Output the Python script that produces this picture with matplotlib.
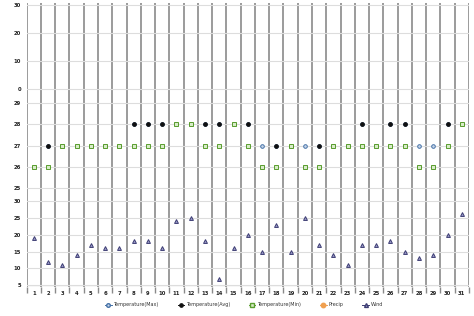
import matplotlib
matplotlib.use("Agg")
import matplotlib.pyplot as plt
from matplotlib.lines import Line2D

days = list(range(1, 32))
temp_max = [26, 27, 27, 27, 27, 27, 27, 28, 28, 28, 28, 28, 28, 28, 28, 28,
            27, 27, 27, 27, 27, 27, 27, 28, 27, 28, 28, 27, 27, 28, 28]
temp_avg = [26, 27, 27, 27, 27, 27, 27, 28, 28, 28, 28, 28, 28, 28, 28, 28,
            26, 27, 27, 26, 27, 27, 27, 28, 27, 28, 28, 26, 26, 28, 28]
temp_min = [26, 26, 27, 27, 27, 27, 27, 27, 27, 27, 28, 28, 27, 27, 28, 27,
            26, 26, 27, 26, 26, 27, 27, 27, 27, 27, 27, 26, 26, 27, 28]
precip = []
wind = [19, 12, 11, 14, 17, 16, 16, 18, 18, 16, 24, 25, 18, 7, 16, 20,
        15, 23, 15, 25, 17, 14, 11, 17, 17, 18, 15, 13, 14, 20, 26]

c_max = "#4572a7"
c_avg = "#111111"
c_min = "#5a9e2f"
c_pre = "#f0a050"
c_wind = "#3d3d73"

fig = plt.figure(figsize=(4.74, 3.16), dpi=100)
left, width = 0.0563, 0.933
ax_p = fig.add_axes([left, 0.712, width, 0.2785])
ax_t = fig.add_axes([left, 0.377, width, 0.335])
ax_w = fig.add_axes([left, 0.0918, width, 0.2852])

for ax in (ax_p, ax_t, ax_w):
    ax.set_xlim(0.5, 31.5)
    for s in ax.spines.values():
        s.set_visible(False)
    ax.set_xticks([d + 0.5 for d in range(0, 32)], minor=True)
    ax.set_xticks(days)
    ax.grid(True, axis="y", color="#dddddd", linewidth=0.8, zorder=0)
    for d in range(0, 32):
        ax.axvline(d + 0.5, color="#8a8a8a", linewidth=1.2, zorder=1)
    ax.tick_params(axis="y", length=0, pad=4)
    ax.tick_params(axis="x", which="both", length=0, labelbottom=False)

ax_p.set_ylim(-0.7, 30.7)
ax_p.set_yticks([0, 10, 20, 30])
if precip:
    ax_p.plot(days[:len(precip)], precip, "o", color=c_pre, ms=3)

ax_t.set_ylim(24.6, 29.56)
ax_t.set_yticks([25, 26, 27, 28, 29])
ax_t.plot(days, temp_max, "o", ls="none", ms=2.6, mfc="#c8d6ea", mec=c_max,
          mew=0.7, zorder=3)
ax_t.plot(days, temp_avg, "o", ls="none", ms=2.4, color=c_avg, zorder=4)
ax_t.plot(days, temp_min, "s", ls="none", ms=2.6, mfc="#d8ecc8", mec=c_min,
          mew=0.7, zorder=5)

ax_w.set_ylim(4.5, 31.2)
ax_w.set_yticks([5, 10, 15, 20, 25, 30])
ax_w.plot(days, wind, "^", ls="none", ms=2.8, mfc="#9a9ac8", mec=c_wind,
          mew=0.7, zorder=3)
ax_w.axhline(4.5, color="#8a8a8a", linewidth=0.8, zorder=2)
ax_w.tick_params(axis="x", which="minor", length=4, width=1.0,
                 color="#8a8a8a", bottom=True)
ax_w.tick_params(axis="x", which="major", labelbottom=True, pad=3)

for ax in (ax_p, ax_t, ax_w):
    for lab in ax.get_yticklabels() + ax.get_xticklabels():
        lab.set_fontsize(3.8)
        lab.set_fontweight("bold")
        lab.set_color("#222222")

handles = [
    Line2D([], [], color=c_max, marker="o", ms=2.6, mfc="#c8d6ea", lw=0.7),
    Line2D([], [], color=c_avg, marker="o", ms=2.4, lw=0.7),
    Line2D([], [], color=c_min, marker="s", ms=2.6, mfc="#d8ecc8", lw=0.7),
    Line2D([], [], color=c_pre, marker="o", ms=3.2, lw=0.7),
    Line2D([], [], color=c_wind, marker="^", ms=2.8, mfc="#9a9ac8", lw=0.7),
]
labels = ["Temperature(Max)", "Temperature(Avg)", "Temperature(Min)",
          "Precip", "Wind"]
fig.legend(handles, labels, loc="center", bbox_to_anchor=(0.515, 0.035),
           ncol=5, frameon=False, fontsize=3.5, handlelength=1.3,
           handletextpad=0.4, columnspacing=3.9, labelcolor="#333333")

fig.savefig("out.png", dpi=100)
